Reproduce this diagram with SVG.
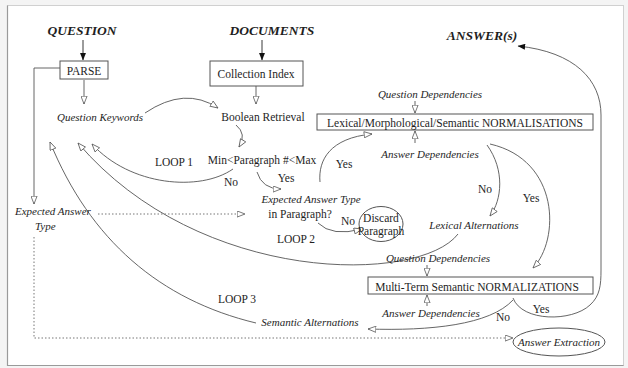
<svg xmlns="http://www.w3.org/2000/svg" width="628" height="368" viewBox="0 0 628 368">
<style>
text{font-family:"Liberation Serif","Times New Roman",serif;fill:#1e1e1e;font-size:11.5px}
.t{font-weight:bold;font-style:italic;font-size:13.5px;text-anchor:middle}
.i{font-style:italic;font-size:11px}
.m{text-anchor:middle}
.box{fill:#fff;stroke:#555;stroke-width:1}
.c{fill:none;stroke:#555;stroke-width:0.9}
.d{fill:none;stroke:#777;stroke-width:1;stroke-dasharray:1.5 2}
</style>
<defs>
<marker id="h" viewBox="0 0 10 8" refX="9.5" refY="4" markerWidth="9" markerHeight="7" markerUnits="userSpaceOnUse" orient="auto">
<path d="M0.5,0.5 L9.5,4 L0.5,7.5 Z" fill="#fff" stroke="#555" stroke-width="0.9"/>
</marker>
<marker id="s" viewBox="0 0 10 8" refX="9.5" refY="4" markerWidth="8" markerHeight="6" markerUnits="userSpaceOnUse" orient="auto">
<path d="M0,0 L10,4 L0,8 Z" fill="#111"/>
</marker>
</defs>
<rect x="0" y="0" width="628" height="368" fill="#f4f4f4"/>
<rect x="7.5" y="5.5" width="616" height="360" fill="#fff" stroke="#d0d0d0" stroke-width="1"/>
<path d="M7.5,5.5 V365.5 H623.5" fill="none" stroke="#9a9a9a" stroke-width="1.2"/>

<g id="connectors">
<path class="c" d="M83,40 V60" marker-end="url(#s)" style="stroke:#222"/>
<path class="c" d="M262,40 V60" marker-end="url(#s)" style="stroke:#222"/>
<path class="c" d="M84,80 V104" marker-end="url(#h)"/>
<path class="c" d="M256,86 V104" marker-end="url(#h)"/>
<path class="c" d="M145,113 Q185,86 218,108" marker-end="url(#h)"/>
<path class="c" d="M236,125 Q247,134 239,147" marker-end="url(#h)"/>
<path class="c" d="M60,68 H34 V204" marker-end="url(#h)"/>
<path class="c" d="M233,169 C200,192 130,186 92,144" marker-end="url(#h)"/>
<path class="c" d="M257,172 Q262,189 281,189" marker-end="url(#h)"/>
<path class="c" d="M320,182 C318,160 330,138 372,134" marker-end="url(#h)"/>
<path class="c" d="M318,223 Q332,237 362,229" marker-end="url(#h)"/>
<path class="c" d="M415,101 V113" marker-end="url(#h)"/>
<path class="c" d="M415,143 V131" marker-end="url(#h)"/>
<path class="c" d="M487,145 C505,170 502,200 490,216" marker-end="url(#h)"/>
<path class="c" d="M490,144 C560,160 560,240 533,268" marker-end="url(#h)"/>
<path class="c" d="M458,234 C420,284 200,286 78,143" marker-end="url(#h)"/>
<path class="c" d="M427,265 V276" marker-end="url(#h)"/>
<path class="c" d="M427,306 V295" marker-end="url(#h)"/>
<path class="c" d="M513,300 C490,325 430,331 368,329" marker-end="url(#h)"/>
<path class="c" d="M513,298 C522,322 572,322 590,305 C600,296 601,285 601,270 L601,115 C601,80 575,52 518,46" marker-end="url(#s)"/>
<path class="c" d="M256,323 C160,300 90,240 50,142" marker-end="url(#h)"/>
<path class="d" d="M98,214 H245" marker-end="url(#h)"/>
<path class="d" d="M34,237 V338 H513" marker-end="url(#h)"/>
</g>

<g id="question"><text class="t" x="82" y="35">QUESTION</text></g>
<g id="documents"><text class="t" x="272" y="35">DOCUMENTS</text></g>
<g id="answers"><text class="t" x="482" y="40">ANSWER(s)</text></g>
<g id="parse"><rect class="box" x="60" y="61" width="48" height="18"/><text class="m" x="84" y="75">PARSE</text></g>
<g id="collection-index"><rect class="box" x="210" y="61" width="93" height="25"/><text class="m" x="256" y="78">Collection Index</text></g>
<g id="question-keywords"><text class="i m" x="100" y="121">Question Keywords</text></g>
<g id="boolean-retrieval"><text class="m" x="263" y="121">Boolean Retrieval</text></g>
<g id="min-max"><text class="m" x="262" y="164">Min&lt;Paragraph #&lt;Max</text></g>
<g id="expected-in-paragraph"><text class="i m" x="311" y="203">Expected Answer Type</text><text class="m" x="300" y="218">in Paragraph?</text></g>
<g id="discard"><ellipse cx="381" cy="224" rx="22" ry="17.5" fill="#fff" stroke="#555"/><text class="m" x="381" y="222">Discard</text><text class="m" x="381" y="235">Paragraph</text></g>
<g id="expected-answer-type"><text class="i" x="15" y="215">Expected Answer</text><text class="i" x="35" y="230">Type</text></g>
<g id="question-deps-1"><text class="i m" x="430" y="98">Question Dependencies</text></g>
<g id="normalisations"><rect class="box" x="317" y="114" width="276" height="16"/><text class="m" x="455" y="126.5">Lexical/Morphological/Semantic NORMALISATIONS</text></g>
<g id="answer-deps-1"><text class="i m" x="430" y="158">Answer Dependencies</text></g>
<g id="lexical-alternations"><text class="i m" x="474" y="229">Lexical Alternations</text></g>
<g id="question-deps-2"><text class="i m" x="438" y="262">Question Dependencies</text></g>
<g id="multi-term"><rect class="box" x="368" y="277" width="225" height="17"/><text class="m" x="477" y="290.5">Multi-Term Semantic NORMALIZATIONS</text></g>
<g id="answer-deps-2"><text class="i m" x="431" y="317">Answer Dependencies</text></g>
<g id="semantic-alternations"><text class="i m" x="310" y="326">Semantic Alternations</text></g>
<g id="answer-extraction"><ellipse cx="559" cy="342" rx="46" ry="14" fill="#fff" stroke="#555"/><text class="i m" x="559" y="346">Answer Extraction</text></g>
<g id="labels">
<text class="m" x="174" y="166">LOOP 1</text>
<text class="m" x="296" y="243">LOOP 2</text>
<text class="m" x="237" y="303">LOOP 3</text>
<text class="m" x="231" y="186">No</text>
<text class="m" x="286" y="182">Yes</text>
<text class="m" x="344" y="168">Yes</text>
<text class="m" x="348" y="225">No</text>
<text class="m" x="485" y="193">No</text>
<text class="m" x="531" y="202">Yes</text>
<text class="m" x="541" y="313">Yes</text>
<text class="m" x="503" y="321">No</text>
</g>
</svg>
